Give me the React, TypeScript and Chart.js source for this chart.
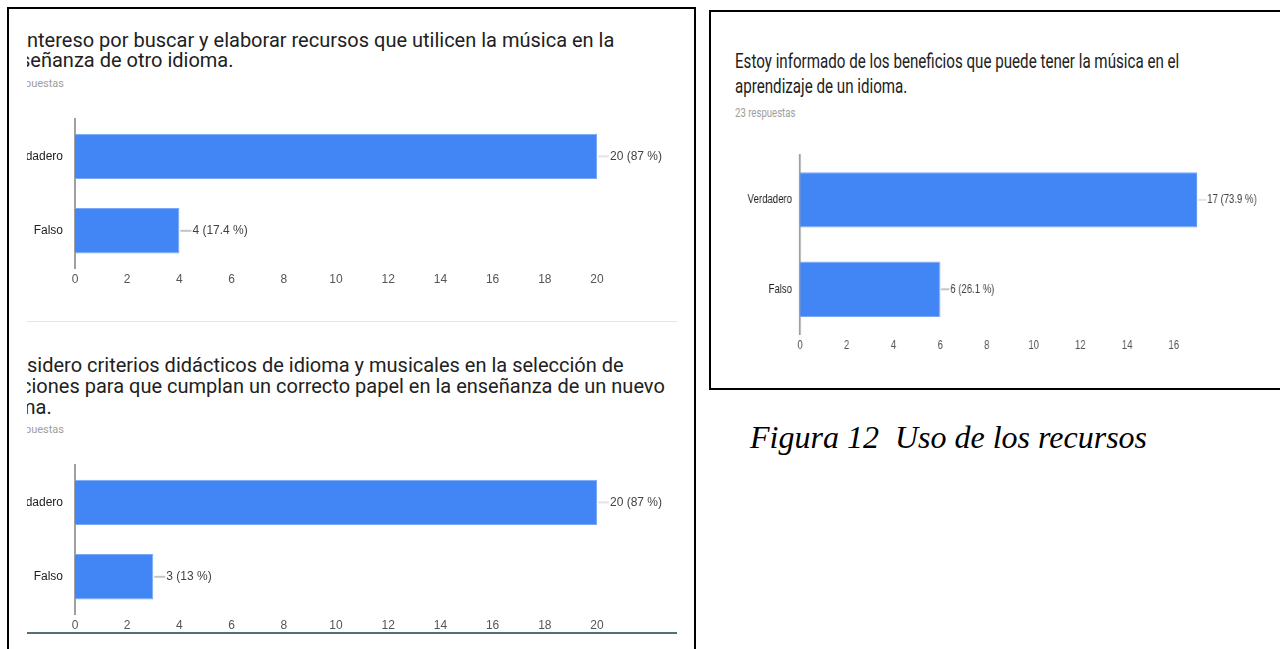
import React, { useEffect, useRef } from "react";
import { Chart, registerables } from "chart.js";

Chart.register(...registerables);

const categories = ["Verdadero", "Falso"];

const chart1Values = [20, 4];
const chart1Percents = [87, 17.4];
const chart2Values = [20, 3];
const chart2Percents = [87, 13];
const chart3Values = [17, 6];
const chart3Percents = [73.9, 26.1];

const leftTicks = [0, 2, 4, 6, 8, 10, 12, 14, 16, 18, 20];
const rightTicks = [0, 2, 4, 6, 8, 10, 12, 14, 16];

// visible (cropped) text of the left question titles, with the left shift of each line
const title1Lines = [
  { text: "ntereso por buscar y elaborar recursos que utilicen la música en la", shift: 0 },
  { text: "señanza de otro idioma.", shift: 7 },
];
const title2Lines = [
  { text: "sidero criterios didácticos de idioma y musicales en la selección de", shift: 0 },
  { text: "ciones para que cumplan un correcto papel en la enseñanza de un nuevo", shift: 6 },
  { text: "ma.", shift: 9 },
];
const title3Lines = [
  "Estoy informado de los beneficios que puede tener la música en el",
  "aprendizaje de un idioma.",
];

type BarProps = {
  values: number[];
  percents: number[];
  ticks: number[];
  max: number;
  left: number;
  top: number;
  width: number;
  height: number;
  scaleX: number;
  padding: { left: number; right: number; top: number; bottom: number };
  yAxisWidth: number;
  xAxisHeight: number;
  yLabelPad: number;
  labelOffset: number;
  barPercentage: number;
  axisWidth: number;
  fontFamily: string;
  fontSize: number;
};

function BarChart(p: BarProps) {
  const ref = useRef<HTMLCanvasElement | null>(null);
  useEffect(() => {
    if (!ref.current) return;
    const font = { family: p.fontFamily, size: p.fontSize };
    const labelPlugin = {
      id: "valueLabels",
      afterDatasetsDraw(chart: any) {
        const ctx = chart.ctx;
        const meta = chart.getDatasetMeta(0);
        meta.data.forEach((bar: any, i: number) => {
          const x = bar.x;
          const y = bar.y;
          ctx.save();
          ctx.strokeStyle = i === 0 ? "#e4e4e4" : "#c4c4c4";
          ctx.lineWidth = 2;
          ctx.beginPath();
          ctx.moveTo(x + 1, y);
          ctx.lineTo(x + p.labelOffset - 1, y);
          ctx.stroke();
          ctx.fillStyle = "#424242";
          ctx.font = `${p.fontSize}px ${p.fontFamily}`;
          ctx.textAlign = "left";
          ctx.textBaseline = "middle";
          ctx.fillText(`${p.values[i]} (${p.percents[i]} %)`, x + p.labelOffset, y);
          ctx.restore();
        });
      },
    };
    const chart = new Chart(ref.current, {
      type: "bar",
      data: {
        labels: categories,
        datasets: [
          {
            data: p.values,
            backgroundColor: "#4285F4",
            borderColor: "#7aa8f7",
            borderWidth: 1,
            barPercentage: p.barPercentage,
            categoryPercentage: 1,
          },
        ],
      },
      options: {
        indexAxis: "y",
        responsive: false,
        maintainAspectRatio: false,
        animation: false,
        layout: { padding: p.padding },
        plugins: { legend: { display: false }, tooltip: { enabled: false } },
        scales: {
          x: {
            type: "linear",
            min: 0,
            max: p.max,
            grid: { display: false, drawTicks: false },
            border: { display: false },
            ticks: { padding: 4, font, color: "#555555", autoSkip: false, maxRotation: 0 },
            afterBuildTicks: (s: any) => {
              s.ticks = p.ticks.map((v) => ({ value: v }));
            },
            afterFit: (s: any) => {
              s.height = p.xAxisHeight;
            },
          },
          y: {
            z: 1,
            grid: { display: false, drawTicks: false },
            border: { display: true, color: "#a0a0a0", width: p.axisWidth },
            ticks: { padding: p.yLabelPad, font, color: "#222222" },
            afterFit: (s: any) => {
              s.width = p.yAxisWidth;
            },
          },
        },
      } as any,
      plugins: [labelPlugin],
    });
    return () => chart.destroy();
  }, []);
  return (
    <div
      style={{
        position: "absolute",
        left: p.left,
        top: p.top,
        width: p.width,
        height: p.height,
        transform: `scaleX(${p.scaleX})`,
        transformOrigin: "left top",
      }}
    >
      <canvas
        ref={ref}
        width={p.width}
        height={p.height}
        style={{ display: "block", width: p.width, height: p.height }}
      />
    </div>
  );
}

const abs = (l: number, t: number): React.CSSProperties => ({ position: "absolute", left: l, top: t });

export default function App() {
  const leftTitle: React.CSSProperties = {
    fontFamily: "Roboto, Arial, sans-serif",
    fontSize: 20,
    lineHeight: "20px",
    color: "#212121",
    whiteSpace: "nowrap",
  };
  const small: React.CSSProperties = {
    fontFamily: "Roboto, Arial, sans-serif",
    fontSize: 11,
    lineHeight: "12px",
    color: "#9e9e9e",
    whiteSpace: "nowrap",
  };
  const s = 0.8;
  return (
    <div
      style={{
        position: "fixed",
        left: 0,
        top: 0,
        width: 1280,
        height: 649,
        overflow: "hidden",
        background: "#ffffff",
      }}
    >
      {/* left frame */}
      <div
        style={{
          ...abs(7, 7),
          width: 689,
          height: 700,
          border: "2px solid #000",
          boxSizing: "border-box",
        }}
      />
      {/* left clipped content */}
      <div style={{ ...abs(27, 0), width: 650, height: 649, overflow: "hidden" }}>
        <div style={{ ...abs(-27, 0), width: 690, height: 649 }}>
          <div style={{ ...abs(27, 30), ...leftTitle }}>
            {title1Lines.map((l, i) => (
              <div key={i} style={{ marginLeft: -l.shift }}>
                {l.text}
              </div>
            ))}
          </div>
          <div style={{ ...abs(25, 78), ...small }}>puestas</div>
          <BarChart
            values={chart1Values}
            percents={chart1Percents}
            ticks={leftTicks}
            max={20}
            left={0}
            top={100}
            width={690}
            height={200}
            scaleX={1}
            padding={{ left: 0, right: 93, top: 17, bottom: 10 }}
            yAxisWidth={75}
            xAxisHeight={22}
            yLabelPad={12}
            labelOffset={13}
            barPercentage={0.61}
            axisWidth={2}
            fontFamily="'Liberation Sans', Arial, sans-serif"
            fontSize={12}
          />
          <div style={{ ...abs(27, 321), width: 650, height: 1, background: "#e6e6e6" }} />
          <div style={{ ...abs(27, 355), ...leftTitle, lineHeight: "21px" }}>
            {title2Lines.map((l, i) => (
              <div key={i} style={{ marginLeft: -l.shift }}>
                {l.text}
              </div>
            ))}
          </div>
          <div style={{ ...abs(25, 424), ...small }}>puestas</div>
          <BarChart
            values={chart2Values}
            percents={chart2Percents}
            ticks={leftTicks}
            max={20}
            left={0}
            top={446}
            width={690}
            height={200}
            scaleX={1}
            padding={{ left: 0, right: 93, top: 18, bottom: 10 }}
            yAxisWidth={75}
            xAxisHeight={22}
            yLabelPad={12}
            labelOffset={13}
            barPercentage={0.61}
            axisWidth={2}
            fontFamily="'Liberation Sans', Arial, sans-serif"
            fontSize={12}
          />
          <div style={{ ...abs(27, 632), width: 650, height: 2, background: "#546e7a" }} />
        </div>
      </div>

      {/* right frame */}
      <div
        style={{
          ...abs(709, 10),
          width: 620,
          height: 380,
          border: "2px solid #000",
          boxSizing: "border-box",
        }}
      />
      <div
        style={{
          ...abs(735, 49),
          fontFamily: "Roboto, Arial, sans-serif",
          fontSize: 20,
          lineHeight: "25px",
          color: "#212121",
          whiteSpace: "nowrap",
          transform: "scaleX(0.757)",
          transformOrigin: "left top",
        }}
      >
        {title3Lines.map((l, i) => (
          <div key={i}>{l}</div>
        ))}
      </div>
      <div
        style={{
          ...abs(735, 107),
          ...small,
          fontSize: 12,
          transform: "scaleX(0.8)",
          transformOrigin: "left top",
        }}
      >
        23 respuestas
      </div>
      <BarChart
        values={chart3Values}
        percents={chart3Percents}
        ticks={rightTicks}
        max={17}
        left={710}
        top={138}
        width={710}
        height={230}
        scaleX={s}
        padding={{ left: 0, right: 101, top: 15, bottom: 12 }}
        yAxisWidth={112.5}
        xAxisHeight={22}
        yLabelPad={10}
        labelOffset={12.5}
        barPercentage={0.62}
        axisWidth={2.5}
        fontFamily="'Liberation Sans', Arial, sans-serif"
        fontSize={12}
      />

      <div
        style={{
          ...abs(750, 418),
          fontFamily: "'Liberation Serif', 'Times New Roman', serif",
          fontStyle: "italic",
          fontSize: 32,
          lineHeight: "38px",
          color: "#000",
          whiteSpace: "pre",
        }}
      >
        {"Figura 12  Uso de los recursos"}
      </div>
    </div>
  );
}
